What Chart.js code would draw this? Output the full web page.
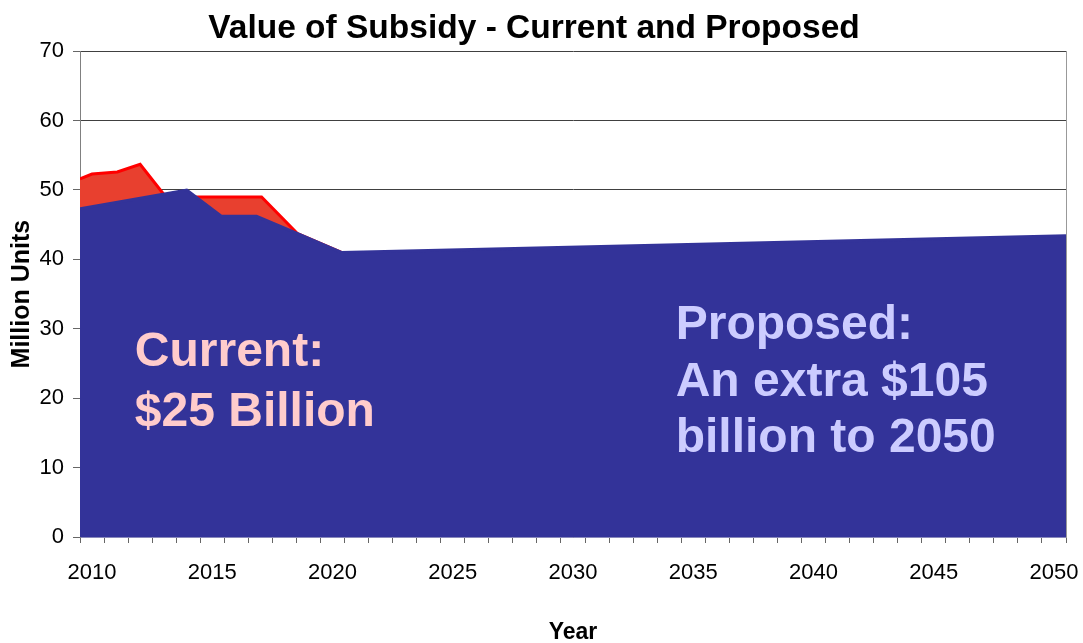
<!DOCTYPE html>
<html>
<head>
<meta charset="utf-8">
<script src="https://cdn.jsdelivr.net/npm/chart.js@4/dist/chart.umd.min.js"></script>
<style>
  html, body { margin: 0; padding: 0; background: #ffffff; }
  #wrap { width: 1083px; height: 643px; }
</style>
</head>
<body>
<div id="wrap"><canvas id="chart" width="1083" height="643"></canvas></div>
<script>
// Subsidy value under the current scheme (million units), by year
const currentYears  = [2010, 2010.5, 2011.55, 2012.5, 2013.57, 2017.55, 2019.05, 2020.87];
const currentValues = [51.6, 52.3, 52.6, 53.7, 49.0, 49.0, 43.7, 41.0];

// Subsidy value under the proposed scheme (million units), by year
const proposedYears  = [2010, 2014.44, 2015.89, 2017.34, 2019.05, 2020.87, 2051];
const proposedValues = [47.3, 50.0, 46.2, 46.2, 43.7, 41.0, 43.4];

// Axis labels
const tickYears = [2010, 2015, 2020, 2025, 2030, 2035, 2040, 2045, 2050];
const yTicks = [0, 10, 20, 30, 40, 50, 60, 70];

const FONT = '"Liberation Sans", Arial, Helvetica, sans-serif';

const toPoints = (xs, ys) => xs.map((x, i) => ({ x: x, y: ys[i] }));

// Text callouts written onto the filled areas
const callouts = [
  { lines: ['Current:', '$25 Billion'], color: '#FFCCCC', x: 2012.28, y: [24.6, 16.0] },
  { lines: ['Proposed:', 'An extra $105', 'billion to 2050'], color: '#CCCCFF', x: 2034.77, y: [28.5, 20.3, 12.2] }
];

const calloutPlugin = {
  id: 'callouts',
  afterDatasetsDraw(chart) {
    const ctx = chart.ctx;
    const xs = chart.scales.x, ys = chart.scales.y;
    ctx.save();
    ctx.font = 'bold 48px ' + FONT;
    ctx.textAlign = 'left';
    ctx.textBaseline = 'alphabetic';
    callouts.forEach(c => {
      ctx.fillStyle = c.color;
      c.lines.forEach((t, i) => {
        ctx.fillText(t, xs.getPixelForValue(c.x), ys.getPixelForValue(c.y[i]));
      });
    });
    ctx.restore();
  }
};

// One tick mark per year along the bottom axis
const yearMarks = [];
for (let y = 2010; y <= 2051; y++) yearMarks.push(y);

new Chart(document.getElementById('chart'), {
  type: 'line',
  data: {
    datasets: [
      {
        label: 'Proposed',
        data: toPoints(proposedYears, proposedValues),
        borderColor: '#333399',
        backgroundColor: '#333399',
        borderWidth: 3,
        fill: 'origin',
        pointRadius: 0,
        tension: 0
      },
      {
        label: 'Current',
        data: toPoints(currentYears, currentValues),
        borderColor: '#FF0000',
        backgroundColor: '#E8402F',
        borderWidth: 3,
        fill: 'origin',
        pointRadius: 0,
        tension: 0
      }
    ]
  },
  options: {
    responsive: false,
    animation: false,
    devicePixelRatio: 1,
    layout: { padding: { left: 0, right: 15, top: 0, bottom: 0 } },
    plugins: {
      legend: { display: false },
      tooltip: { enabled: false },
      title: {
        display: true,
        text: 'Value of Subsidy - Current and Proposed',
        color: '#000000',
        font: { family: FONT, size: 33.5, weight: 'bold' },
        padding: { top: 9, bottom: 2 }
      }
    },
    scales: {
      x: {
        type: 'linear',
        min: 2010,
        max: 2051,
        afterBuildTicks(scale) { scale.ticks = yearMarks.map(v => ({ value: v })); },
        afterFit(scale) { scale.height = 106; },
        grid: { drawOnChartArea: false, drawTicks: true, tickLength: 6, tickColor: '#666666' },
        border: { display: true, color: '#8888bb' },
        ticks: {
          autoSkip: false,
          maxRotation: 0,
          minRotation: 0,
          labelOffset: 12,
          padding: 17,
          color: '#000000',
          font: { family: FONT, size: 22 },
          callback: v => tickYears.includes(v) ? String(v) : ''
        },
        title: {
          display: true,
          text: 'Year',
          color: '#000000',
          font: { family: FONT, size: 23, weight: 'bold' },
          padding: { top: 0, bottom: -3 }
        }
      },
      y: {
        type: 'linear',
        min: 0,
        max: 70,
        afterBuildTicks(scale) { scale.ticks = yTicks.map(v => ({ value: v })); },
        afterFit(scale) { scale.width = 80; },
        grid: { color: '#404040', lineWidth: 1, drawTicks: true, tickLength: 7, tickColor: '#666666' },
        border: { display: true, color: '#808080' },
        ticks: {
          padding: 9,
          color: '#000000',
          font: { family: FONT, size: 22 }
        },
        title: {
          display: true,
          text: 'Million Units',
          color: '#000000',
          font: { family: FONT, size: 25, weight: 'bold' },
          padding: { top: 7, bottom: 0 }
        }
      },
      y2: {
        type: 'linear',
        position: 'right',
        min: 0,
        max: 70,
        afterFit(scale) { scale.width = 0; },
        grid: { display: false, drawTicks: false },
        border: { display: true, color: '#999999' },
        ticks: { display: false }
      }
    }
  },
  plugins: [calloutPlugin]
});
</script>
</body>
</html>
